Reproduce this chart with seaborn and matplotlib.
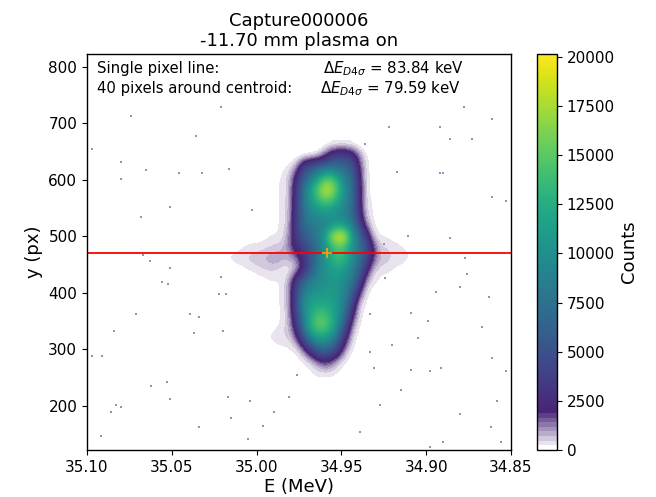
import numpy as np
import pandas as pd
import seaborn as sns
import matplotlib
matplotlib.use("Agg")
import matplotlib.pyplot as plt
from matplotlib.colors import ListedColormap

# beam image, counts / 100
energy_start, energy_step = 35.020, -0.004
y_start, y_step = 660, -20
counts_100 = [
    [0,0,0,0,0,0,0,0,0,0,0,0,0,0,0,0,1,1,1,1,0,0,0,0,0,0,0,0,0,0,0],
    [0,0,0,0,0,0,0,0,0,0,0,0,0,1,3,15,35,45,45,35,15,3,1,0,0,0,0,0,0,0,0],
    [0,0,0,0,0,0,0,0,1,2,4,12,45,60,70,80,80,75,70,60,22,4,1,0,0,0,0,0,0,0,0],
    [0,0,0,0,0,0,0,1,2,3,8,30,65,85,120,150,155,125,90,70,28,4,1,0,0,0,0,0,0,0,0],
    [0,0,0,0,0,0,1,1,2,3,8,38,80,120,155,185,180,140,100,75,30,4,1,1,0,0,0,0,0,0,0],
    [0,0,0,0,1,1,1,1,2,3,8,40,80,105,125,140,135,115,95,75,30,5,2,1,0,0,0,0,0,0,0],
    [0,0,0,1,1,1,1,1,2,3,9,42,75,95,100,105,100,95,85,70,32,6,2,1,1,0,0,0,0,0,0],
    [0,0,0,1,1,1,1,2,2,3,10,42,68,80,85,90,100,110,105,85,50,12,3,1,1,1,0,0,0,0,0],
    [0,0,1,1,1,1,1,2,2,4,14,40,58,70,85,110,170,200,190,120,75,40,6,2,2,1,1,0,0,0,0],
    [1,1,1,2,3,3,4,5,6,7,14,28,40,55,75,100,125,145,135,105,80,55,25,6,5,4,3,2,2,1,1],
    [2,3,4,5,6,7,8,9,10,8,8,12,30,55,80,105,125,140,130,105,80,50,20,8,6,5,4,3,2,2,1],
    [0,0,0,1,2,3,4,5,4,2,2,8,25,55,85,100,110,115,105,90,65,30,7,3,3,2,1,1,0,0,0],
    [0,0,0,0,0,1,1,2,2,3,12,40,70,85,95,100,105,105,95,80,50,10,3,2,1,1,0,0,0,0,0],
    [0,0,0,0,0,1,1,1,2,3,12,50,85,100,105,110,110,105,90,65,22,3,1,1,0,0,0,0,0,0,0],
    [0,0,0,0,0,0,1,1,2,3,12,55,100,115,120,120,115,105,85,42,6,2,1,0,0,0,0,0,0,0,0],
    [0,0,0,0,0,0,0,1,1,3,10,45,90,125,145,145,125,105,70,25,4,1,0,0,0,0,0,0,0,0,0],
    [0,0,0,0,0,0,1,1,2,4,8,35,85,130,152,152,130,95,50,10,2,1,0,0,0,0,0,0,0,0,0],
    [0,0,0,0,0,1,2,3,4,5,5,15,50,90,110,110,95,65,25,5,1,0,0,0,0,0,0,0,0,0,0],
    [0,0,0,0,0,0,0,0,1,1,2,3,12,35,60,70,60,35,10,2,1,0,0,0,0,0,0,0,0,0,0],
    [0,0,0,0,0,0,0,0,0,1,1,1,2,4,12,20,15,6,2,1,0,0,0,0,0,0,0,0,0,0,0],
    [0,0,0,0,0,0,0,0,0,0,0,1,1,2,3,3,3,2,1,0,0,0,0,0,0,0,0,0,0,0,0],
    [0,0,0,0,0,0,0,0,0,0,0,0,0,1,1,1,1,0,0,0,0,0,0,0,0,0,0,0,0,0,0],
]

# isolated hot pixels outside the beam
stray_energy = [35.051, 35.003, 35.021, 35.036, 35.080, 35.074, 35.068, 35.021, 35.052, 35.018,
                35.022, 35.039, 35.034, 35.020, 35.037, 35.091, 35.062, 35.034, 35.005, 35.015,
                35.086, 35.080, 35.051, 35.017, 34.996, 34.990, 34.976, 34.981, 35.004, 35.097,
                35.065, 35.046, 35.080, 35.032, 35.016, 35.063, 35.067, 35.051, 35.056, 35.071,
                35.084, 35.097, 35.053, 35.083, 35.092,
                34.917, 34.892, 34.890, 34.922, 34.892, 34.886, 34.936, 34.878, 34.861, 34.873,
                34.861, 34.853, 34.863, 34.894, 34.880, 34.876, 34.877, 34.886, 34.911, 34.925,
                34.924, 34.909, 34.899, 34.933, 34.905, 34.933, 34.909, 34.898, 34.891, 34.931,
                34.861, 34.853, 34.915, 34.927, 34.880, 34.858, 34.939, 34.890, 34.862, 34.898,
                34.856, 34.867, 34.920]
stray_y = [553, 547, 730, 678, 631, 714, 534, 429, 416, 398,
           398, 363, 357, 332, 329, 289, 236, 163, 142, 179,
           189, 198, 212, 215, 165, 189, 254, 215, 209, 655,
           618, 612, 602, 612, 619, 457, 468, 445, 419, 363,
           333, 289, 242, 201, 147,
           615, 612, 612, 693, 693, 673, 664, 730, 708, 673,
           570, 563, 392, 401, 410, 434, 462, 498, 501, 487,
           426, 364, 351, 362, 320, 295, 264, 262, 268, 267,
           285, 262, 228, 201, 186, 209, 153, 137, 162, 127,
           136, 339, 307]

x_ticks = [35.10, 35.05, 35.00, 34.95, 34.90, 34.85]
y_ticks = [200, 300, 400, 500, 600, 700, 800]
cbar_ticks = [0, 2500, 5000, 7500, 10000, 12500, 15000, 17500, 20000]
centroid = (34.9585, 471)

df = pd.DataFrame(np.array(counts_100) * 100.0)

# viridis with the lowest tenth fading to white in bands
colors = plt.get_cmap("viridis", 256)(np.arange(256))
for i in range(26):
    frac = (i // 3) / 8.0
    colors[i, :3] = 1 - frac * (1 - colors[26, :3])
cmap = ListedColormap(colors)

fig = plt.figure(figsize=(6.56, 4.97), dpi=100)
ax = fig.add_axes([87 / 656, 1 - 450 / 497, 424 / 656, 396 / 497])
cax = fig.add_axes([537 / 656, 1 - 450 / 497, 20 / 656, 396 / 497])

sns.heatmap(df, ax=ax, cbar_ax=cax, cmap=cmap, vmin=0, vmax=20150,
            xticklabels=False, yticklabels=False, cbar_kws={"ticks": cbar_ticks})
mesh = ax.collections[0]
mesh.set_visible(False)

# smooth the same table in data space so the colour bands stay contours
n_rows, n_cols = df.shape
extent = (energy_start - energy_step / 2, energy_start + energy_step * (n_cols - 0.5),
          y_start + y_step * (n_rows - 0.5), y_start - y_step / 2)
ax.imshow(df.values, cmap=cmap, vmin=0, vmax=20150, extent=extent, aspect="auto",
          interpolation="bicubic", interpolation_stage="data")

sns.scatterplot(x=stray_energy, y=stray_y, ax=ax, marker="s", s=2, color="#a08cbc", linewidth=0)
ax.axhline(centroid[1], color="red", lw=1.3)
sns.scatterplot(x=[centroid[0]], y=[centroid[1]], ax=ax, marker="+", s=45, color="orange",
                linewidth=1.2, zorder=5)

ax.set_xlim(35.10, 34.85)
ax.set_ylim(122, 823)
ax.set_xticks(x_ticks)
ax.set_xticklabels([f"{t:.2f}" for t in x_ticks])
ax.set_yticks(y_ticks)
ax.set_yticklabels([str(t) for t in y_ticks], rotation=0)
ax.tick_params(labelsize=11)
ax.set_xlabel("E (MeV)", fontsize=13, labelpad=2.5, visible=True)
ax.set_ylabel("y (px)", fontsize=13, visible=True)
ax.set_title("Capture000006\n-11.70 mm plasma on", fontsize=13, linespacing=1.1, pad=6)
for s in ax.spines.values():
    s.set_visible(True)
    s.set_linewidth(1.0)

cbar = mesh.colorbar
cbar.outline.set_linewidth(1.0)
cbar.outline.set_visible(True)
cbar.ax.tick_params(labelsize=11)
cbar.set_label("Counts", fontsize=13)

fig.text(97 / 656, 1 - 73 / 497, "Single pixel line:", fontsize=10.7)
fig.text(323 / 656, 1 - 73 / 497, r"$\Delta E_{D4\sigma}$ = 83.84 keV", fontsize=10.8)
fig.text(97 / 656, 1 - 93 / 497, "40 pixels around centroid:", fontsize=10.7)
fig.text(320 / 656, 1 - 93 / 497, r"$\Delta E_{D4\sigma}$ = 79.59 keV", fontsize=10.8)

fig.savefig("out.png", dpi=100)
